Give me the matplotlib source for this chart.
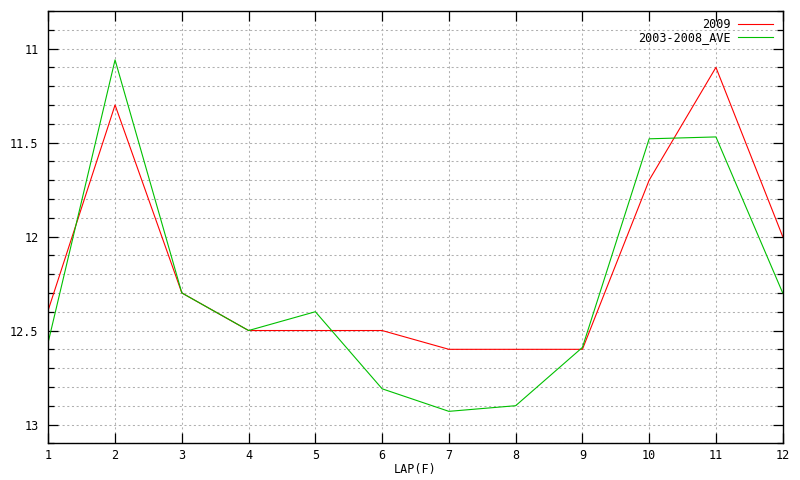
import matplotlib
matplotlib.use("Agg")
import matplotlib.pyplot as plt
from matplotlib.ticker import MultipleLocator

laps = [1, 2, 3, 4, 5, 6, 7, 8, 9, 10, 11, 12]
y2009 = [12.39, 11.30, 12.30, 12.50, 12.50, 12.50, 12.60, 12.60, 12.60, 11.70, 11.10, 12.00]
yave = [12.56, 11.06, 12.30, 12.50, 12.40, 12.81, 12.93, 12.90, 12.59, 11.48, 11.47, 12.30]
labels = ["2009", "2003-2008_AVE"]

plt.rcParams['font.family'] = ['DejaVu Sans Mono', 'DejaVu Sans']
fig = plt.figure(figsize=(8, 4.8), dpi=100)
ax = fig.add_axes([48.3/800, 1 - 443.3/480, (782.7-48.3)/800, (443.3-11)/480])

ax.plot(laps, y2009, color='#ff0000', lw=0.8, label=labels[0])
ax.plot(laps, yave, color='#00c000', lw=0.8, label=labels[1])

ax.set_xlim(1, 12)
ax.set_ylim(13.1, 10.8)
ax.set_xticks(laps)
ax.yaxis.set_major_locator(MultipleLocator(0.5))
ax.yaxis.set_minor_locator(MultipleLocator(0.1))
ax.yaxis.set_major_formatter(matplotlib.ticker.FuncFormatter(lambda v, p: ('%g' % v)))

ax.grid(True, which='both', axis='y', color='#b0b0b0', ls=(0, (2, 2.5)), lw=0.75)
ax.grid(True, which='major', axis='x', color='#b0b0b0', ls=(0, (2, 2.5)), lw=0.75)

ax.tick_params(which='major', direction='in', length=7.5, width=0.9, top=True, right=True,
               labelsize=8.5, pad=4, colors='black')
ax.tick_params(which='minor', direction='in', length=4, width=0.9, top=False, right=True)
ax.tick_params(axis='y', which='major', pad=7)
for s in ax.spines.values():
    s.set_linewidth(1.0)

ax.set_xlabel("LAP(F)", fontsize=8.5, labelpad=1)

leg = ax.legend(loc='upper right', frameon=False, markerfirst=False, fontsize=8.5,
                handlelength=3.0, handletextpad=0.6, labelspacing=0.0,
                borderaxespad=0.2, bbox_to_anchor=(0.997, 1.0))
for t in leg.get_texts():
    t.set_ha('right')

fig.savefig("out.png", dpi=100)
